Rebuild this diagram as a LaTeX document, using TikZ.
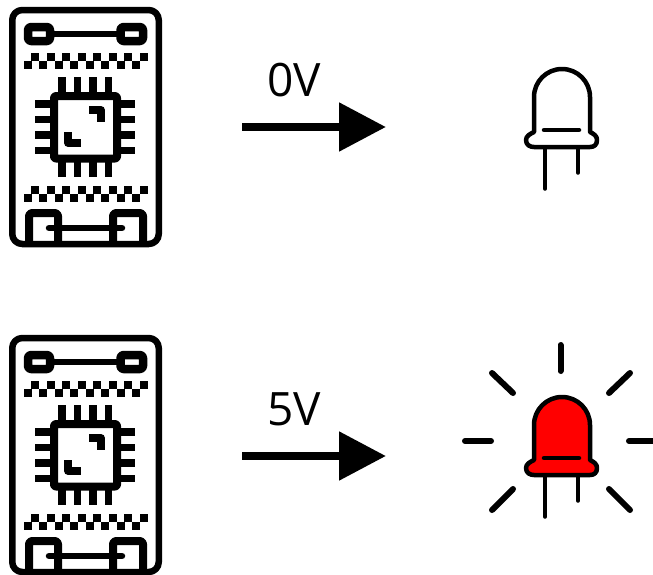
\documentclass[tikz,border=0pt]{standalone}
\usepackage{fontspec}
\setmainfont{Open Sans}
\usetikzlibrary{arrows.meta}
\tikzset{
  every path/.style={line join=round},
  pinline/.style={line width=7.5pt},
  legline/.style={line width=3.5pt, line cap=round},
  rayline/.style={line width=6pt, line cap=round},
  voltarrow/.style={line width=8.5pt, -{Triangle[length=47pt,width=47pt]}},
  voltlabel/.style={inner sep=0pt, font=\fontsize{46}{46}\selectfont},
  pics/board/.style={code={
    \draw[line width=6.5pt, rounded corners=10pt] (12.25,10) rectangle (158.75,244);
    \draw[line width=8.5pt, rounded corners=3pt] (28,27) rectangle (50,41);
    \draw[line width=8.5pt, rounded corners=3pt] (120.5,27) rectangle (143,41);
    \draw[line width=6pt] (54,34) -- (117,34);
    \foreach \x in {0,...,7} {
      \fill (31+15.5*\x,53) rectangle +(8,8);
      \fill (23.5+15.5*\x,61) rectangle +(8,8);
      \fill (31+15.5*\x,186) rectangle +(8,8);
      \fill (23.5+15.5*\x,194) rectangle +(8,8);
    }
    \draw[line width=8pt, rounded corners=2pt] (54,96) rectangle (117,158.5);
    \foreach \x in {62,77.5,93,108.5} {
      \draw[pinline] (\x,77) -- (\x,92);
      \draw[pinline] (\x,162) -- (\x,177);
    }
    \foreach \y in {104,119.5,135,150.5} {
      \draw[pinline] (35,\y) -- (50,\y);
      \draw[pinline] (121,\y) -- (135,\y);
    }
    \draw[line width=7.5pt] (89,110) -- (101,110) -- (101,122);
    \draw[line width=7.5pt] (68,132) -- (68,143) -- (81,143);
    \draw[line width=8pt, rounded corners=3pt] (29,243) -- (29,213) -- (58,213) -- (58,243);
    \draw[line width=8pt, rounded corners=3pt] (113,243) -- (113,213) -- (143,213) -- (143,243);
    \draw[line width=6.5pt, line cap=round] (49,228) -- (122,228);
  }},
  pics/ledbulb/.style={code={
    \draw[legline] (545,148) -- (545,189);
    \draw[legline] (578,148) -- (578,173);
    \draw[line width=4.5pt, fill=#1] (534,132) -- (534,97) arc[start angle=180, end angle=360, radius=28] -- (590,132)
      .. controls (594,134) and (597,136) .. (597,140) .. controls (597,145) and (594,147) .. (590,147)
      -- (534,147) .. controls (530,147) and (526,145) .. (526,140) .. controls (526,136) and (530,134) .. (534,132) -- cycle;
    \draw[line width=4.5pt, line cap=round] (544,130) -- (579,130);
  }}
}
\begin{document}
\begin{tikzpicture}[x=1pt, y=-1pt]
\fill[white] (0,0) rectangle (653,574);
\useasboundingbox (0,0) rectangle (653,574);
\pic (BoardA) at (0,0) {board};
\pic (BoardB) at (0,328) {board};
\coordinate (ArrowAStart) at (242,127);
\coordinate (ArrowAEnd) at (386,127);
\coordinate (ArrowBStart) at (242,456);
\coordinate (ArrowBEnd) at (386,456);
\draw[voltarrow] (ArrowAStart) -- (ArrowAEnd);
\draw[voltarrow] (ArrowBStart) -- (ArrowBEnd);
\node[voltlabel] (LabelA) at (294,80) {0V};
\node[voltlabel] (LabelB) at (294,409) {5V};
\pic (LedA) at (0,0) {ledbulb=white};
\pic (LedB) at (0,328) {ledbulb=red};
\draw[rayline] (560.5,345) -- (560.5,371);
\draw[rayline] (465,441) -- (491,441);
\draw[rayline] (629,441) -- (660,441);
\draw[rayline] (492,373) -- (513,393);
\draw[rayline] (630,373) -- (609,393);
\draw[rayline] (513,489) -- (492,510);
\draw[rayline] (609,489) -- (630,510);
\end{tikzpicture}
\end{document}
